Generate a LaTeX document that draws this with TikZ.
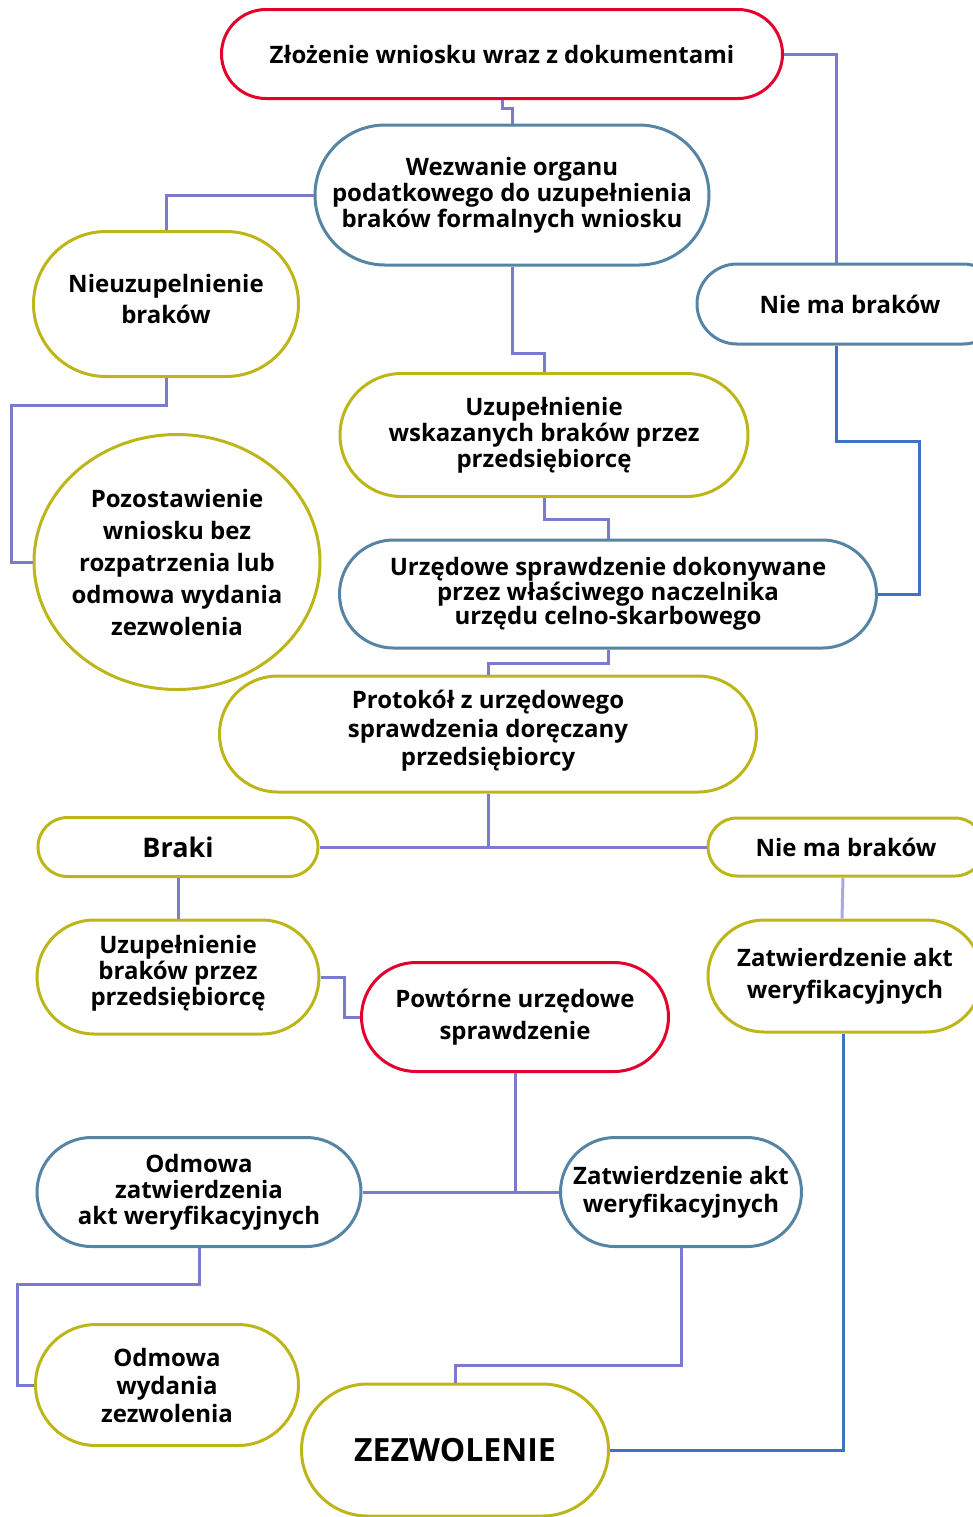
\documentclass[tikz,border=0pt]{standalone}
\usepackage{fontspec}
\setmainfont{Open Sans}
\usetikzlibrary{shapes.misc,shapes.geometric}

\definecolor{boxred}{HTML}{E4002B}
\definecolor{boxblue}{HTML}{5584A4}
\definecolor{boxolive}{HTML}{BDB61A}
\definecolor{linkpurple}{HTML}{7B7BCB}
\definecolor{linklight}{HTML}{A9A9E0}
\definecolor{linkblue}{HTML}{3D72C4}

\tikzset{
  pill/.style={rounded rectangle, draw, line width=1.5pt, fill=white,
    align=center, inner sep=0pt,
    font=\bfseries\fontsize{12}{13}\selectfont},
  redpill/.style={pill, draw=boxred},
  bluepill/.style={pill, draw=boxblue},
  olivepill/.style={pill, draw=boxolive},
  loose/.style={font=\bfseries\fontsize{12}{16}\selectfont},
  link/.style={draw=linkpurple, line width=1.5pt},
  bluelink/.style={draw=linkblue, line width=1.5pt},
}

\begin{document}
\begin{tikzpicture}[x=0.5pt,y=-0.5pt]
\useasboundingbox (0,0) rectangle (973,1517);
\clip (0,0) rectangle (973,1517);

% top part
\node[redpill, minimum width=280.5pt, minimum height=44.5pt] (zlozenie) at (502,54)
  {Złożenie wniosku wraz z dokumentami};
\node[bluepill, minimum width=197pt, minimum height=70pt] (wezwanie) at (512,195)
  {Wezwanie organu\\podatkowego do uzupełnienia\\braków formalnych wniosku};
\node[olivepill, font=\bfseries\fontsize{12}{15.5}\selectfont,
  minimum width=132.5pt, minimum height=72.5pt] (nieuzup) at (166,304)
  {Nieuzupelnienie\\braków\\[-10.5pt]};
\node[bluepill, minimum width=153pt, minimum height=40pt] (niema1) at (850,304)
  {Nie ma braków};
\node[olivepill, minimum width=204pt, minimum height=61.5pt] (uzup1) at (544,435)
  {Uzupełnienie\\wskazanych braków przez\\przedsiębiorcę};
\node[ellipse, draw=boxolive, line width=1.5pt, fill=white, align=center,
  inner ysep=0pt, inner xsep=-7pt,
  loose, minimum width=143pt, minimum height=127.5pt] (pozost) at (177,562)
  {Pozostawienie\\wniosku bez\\rozpatrzenia lub\\odmowa wydania\\zezwolenia};
\node[bluepill, font=\bfseries\fontsize{12}{12.3}\selectfont,
  minimum width=268.5pt, minimum height=54pt] (urzedowe) at (608,594)
  {Urzędowe sprawdzenie dokonywane\\przez właściwego naczelnika\\urzędu celno-skarbowego};
\node[olivepill, font=\bfseries\fontsize{12}{14.2}\selectfont,
  minimum width=268.5pt, minimum height=58pt] (protokol) at (488,734)
  {Protokół z urzędowego\\sprawdzenia doręczany\\przedsiębiorcy\\[-8pt]};

% middle part
\node[olivepill, font=\bfseries\fontsize{13.5}{15}\selectfont,
  minimum width=140pt, minimum height=29.5pt] (braki) at (178,847) {Braki};
\node[olivepill, minimum width=138pt, minimum height=29pt] (niema2) at (846,847)
  {Nie ma braków};
\node[olivepill, minimum width=141pt, minimum height=57pt] (uzup2) at (178,977)
  {Uzupełnienie\\braków przez\\przedsiębiorcę\\[-6pt]};
\node[redpill, loose, minimum width=153.5pt, minimum height=54.5pt] (powtorne) at (515,1017)
  {Powtórne urzędowe\\sprawdzenie};
\node[olivepill, loose, minimum width=137pt, minimum height=56pt] (zatw1) at (845,976)
  {Zatwierdzenie akt\\weryfikacyjnych};

% bottom part
\node[bluepill, minimum width=162pt, minimum height=54.5pt] (odmowa1) at (199,1192)
  {Odmowa\\zatwierdzenia\\akt weryfikacyjnych};
\node[bluepill, font=\bfseries\fontsize{12}{14}\selectfont,
  minimum width=120.5pt, minimum height=54.5pt] (zatw2) at (681,1192)
  {Zatwierdzenie akt\\weryfikacyjnych};
\node[olivepill, font=\bfseries\fontsize{12}{14}\selectfont,
  minimum width=131.5pt, minimum height=60.5pt] (odmowa2) at (167,1385)
  {Odmowa\\wydania\\zezwolenia};
\node[olivepill, font=\bfseries\fontsize{16}{18}\selectfont,
  minimum width=153.5pt, minimum height=66pt] (zezwol) at (455,1450) {ZEZWOLENIE};

% connectors
\draw[link] (zlozenie.south) -- ++(0,8) -| (wezwanie.north);
\draw[link] (zlozenie.east) -| ([xshift=-7pt]niema1.north);
\draw[link] (wezwanie.west) -| (nieuzup.north);
\draw[link] (wezwanie.south) -- ++(0,87) -| (uzup1.north);
\draw[link] (nieuzup.south) |- (11,405) |- (pozost.west);
\draw[bluelink] ([xshift=-7pt]niema1.south) |- (919,441) |- (urzedowe.east);
\draw[link] (uzup1.south) -- ++(0,21) -| (urzedowe.north);
\draw[link] (urzedowe.south) -- ++(0,14) -| (protokol.north);
\draw[link] (protokol.south) -- (protokol.south |- braki.east);
\draw[link] (braki.east) -- (niema2.west);
\draw[link] (braki.south) -- (uzup2.north);
\draw[link] (uzup2.east) -- ++(24,0) |- (powtorne.west);
\draw[draw=linklight, line width=1.5pt] ([xshift=-1.5pt]niema2.south) -- ([xshift=-1.5pt]zatw1.north);
\draw[link] (powtorne.south) -- (powtorne.south |- odmowa1.east);
\draw[link] (odmowa1.east) -- (zatw2.west);
\draw[bluelink] ([xshift=-1pt]zatw1.south) |- (zezwol.east);
\draw[link] (odmowa1.south) |- (17,1284) |- (odmowa2.west);
\draw[link] (zatw2.south) -- ++(0,117) -| (zezwol.north);

\end{tikzpicture}
\end{document}
